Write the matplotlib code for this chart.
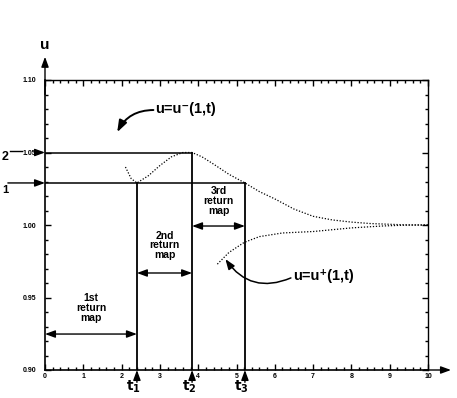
import numpy as np
import matplotlib.pyplot as plt
from matplotlib.ticker import MultipleLocator, FormatStrFormatter

plt.rcParams['font.family'] = ['Liberation Sans', 'DejaVu Sans']
plt.rcParams['font.weight'] = 'bold'

# u = u-(1,t): dips to level 1 at t1, peaks at level 2 at t2, decays to 1
t_minus = [2.1, 2.25, 2.4, 2.7, 3.0, 3.3, 3.6, 3.84, 4.1, 4.4, 4.8, 5.22,
           5.6, 6.0, 6.5, 7.0, 7.5, 8.0, 8.5, 9.0, 9.5, 10.0]
u_minus = [1.040, 1.032, 1.029, 1.034, 1.041, 1.047, 1.050, 1.050, 1.047,
           1.042, 1.035, 1.029, 1.023, 1.018, 1.011, 1.006, 1.0035, 1.002,
           1.001, 1.0005, 1.0, 1.0]

# u = u+(1,t): rises from below toward 1
t_plus = [4.5, 4.8, 5.2, 5.6, 6.2, 7.0, 8.0, 8.8, 9.5, 10.0]
u_plus = [0.973, 0.981, 0.988, 0.992, 0.9945, 0.9955, 0.998, 0.9993, 1.0, 1.0]

# return times and the two levels
t_marks = [2.4, 3.84, 5.22]
t_names = [r'$\mathbf{t_1}$', r'$\mathbf{t_2}$', r'$\mathbf{t_3}$']
level1 = 1.029
level2 = 1.05

map_names = ['1st\nreturn\nmap', '2nd\nreturn\nmap', '3rd\nreturn\nmap']
map_arrow_u = [0.9248, 0.9669, 0.9993]
map_text_u = [0.9428, 0.986, 1.0166]

fig = plt.figure(figsize=(4.57, 3.98), dpi=100)
ax = fig.add_axes([45 / 457, 1 - 370 / 398, 383 / 457, 290 / 398])

ax.set_xlim(0, 10)
ax.set_ylim(0.90, 1.10)

# dotted solution curves
ax.plot(t_minus, u_minus, color='k', lw=0.9, ls=(0, (1, 1.4)))
ax.plot(t_plus, u_plus, color='k', lw=0.9, ls=(0, (1, 1.4)))

# levels and return-time verticals
ax.plot([0, t_marks[1]], [level2, level2], color='k', lw=1.1)
ax.plot([0, t_marks[2]], [level1, level1], color='k', lw=1.1)
ax.plot([t_marks[0], t_marks[0]], [0.90, level1], color='k', lw=1.3)
ax.plot([t_marks[1], t_marks[1]], [0.90, level2], color='k', lw=1.3)
ax.plot([t_marks[2], t_marks[2]], [0.90, level1], color='k', lw=1.3)

# return map spans
starts = [0, t_marks[0], t_marks[1]]
ends = t_marks
dbl = dict(arrowstyle='<|-|>,head_length=0.6,head_width=0.22', color='k',
           lw=1.0, shrinkA=0, shrinkB=0)
for a, b, ua, ut, name in zip(starts, ends, map_arrow_u, map_text_u, map_names):
    ax.annotate('', xy=(b, ua), xytext=(a, ua), arrowprops=dbl)
    ax.text((a + b) / 2, ut, name, ha='center', va='center', fontsize=7.5,
            fontweight='heavy', linespacing=0.95)

one = dict(arrowstyle='-|>,head_length=0.6,head_width=0.22', color='k',
           lw=1.0, shrinkA=0, shrinkB=0)

# arrows under the time axis at t1, t2, t3
for tm, nm in zip(t_marks, t_names):
    ax.annotate('', xy=(tm, 0.9), xytext=(tm, 0.8915), arrowprops=one,
                annotation_clip=False)
    ax.text(tm - 0.08, 0.8828, nm, ha='center', va='bottom', fontsize=10)

# level markers left of the axis
ax.annotate('', xy=(0, level1), xytext=(-0.97, level1), arrowprops=one,
            annotation_clip=False)
ax.annotate('', xy=(0, level2), xytext=(-0.28, level2), arrowprops=one,
            annotation_clip=False)
ax.plot([-0.92, -0.6], [level2 + 0.001, level2 + 0.001], color='k', lw=1.0,
        clip_on=False)
ax.text(-1.12, 1.0466, '2', ha='left', va='center', fontsize=9)
ax.text(-1.12, 1.024, '1', ha='left', va='center', fontsize=8)

# axis arrows
ax.annotate('', xy=(0, 1.116), xytext=(0, 1.09), arrowprops=one,
            annotation_clip=False)
ax.annotate('', xy=(10.6, 0.9), xytext=(9.9, 0.9), arrowprops=one,
            annotation_clip=False)
ax.text(0, 1.124, 'u', ha='center', va='center', fontsize=11)

# curve labels
ax.text(2.88, 1.08, 'u=u\u207b(1,t)', ha='left', va='center', fontsize=10.5)
ax.annotate('', xy=(1.885, 1.064), xytext=(2.83, 1.0793),
            arrowprops=dict(arrowstyle='-|>,head_length=0.7,head_width=0.25',
                            color='k', lw=1.4, shrinkA=0, shrinkB=0,
                            connectionstyle='arc3,rad=0.3'))
ax.text(6.47, 0.9648, 'u=u\u207a(1,t)', ha='left', va='center', fontsize=10.5)
ax.annotate('', xy=(4.71, 0.9765), xytext=(6.42, 0.9635),
            arrowprops=dict(arrowstyle='-|>,head_length=0.6,head_width=0.22',
                            color='k', lw=1.1, shrinkA=0, shrinkB=0,
                            connectionstyle='arc3,rad=-0.4'))

# ticks on all four sides, pointing inward
ax.xaxis.set_major_locator(MultipleLocator(1))
ax.xaxis.set_minor_locator(MultipleLocator(0.2))
ax.yaxis.set_major_locator(MultipleLocator(0.05))
ax.yaxis.set_minor_locator(MultipleLocator(0.01))
ax.yaxis.set_major_formatter(FormatStrFormatter('%.2f'))
ax.tick_params(which='both', direction='in', top=True, right=True,
               labelsize=5, width=1.0)
ax.tick_params(which='major', length=4)
ax.tick_params(which='minor', length=2)
ax.tick_params(axis='x', pad=2)
ax.tick_params(axis='y', pad=6)
for lab in ax.get_xticklabels() + ax.get_yticklabels():
    lab.set_fontweight('bold')
for sp in ax.spines.values():
    sp.set_linewidth(1.2)
ax.spines['top'].set_linewidth(1.0)
ax.spines['right'].set_linewidth(1.0)

fig.savefig('out.png', dpi=100)
